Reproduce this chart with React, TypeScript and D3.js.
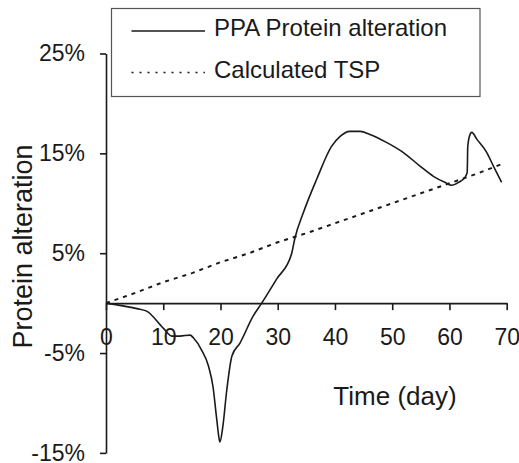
import { useEffect, useRef } from "react";
import * as d3 from "d3";

// PPA protein alteration curve (day, %)
const ppaDays = [0, 5.4, 7.1, 10, 11.5, 12.9, 14.7, 15.3, 16.7, 17.9, 18.7, 19.3, 19.8, 19.9, 20.4, 21.1, 22, 23.4, 25.7, 27.2, 29.8, 32.4, 33, 34.5, 36.8, 39.4, 40.9, 42.6, 44.4, 46.1, 49, 51.9, 54.9, 57.2, 59.2, 60.4, 61.6, 62.7, 63.1, 63.2, 63.6, 63.9, 64.8, 66.5, 67.7, 69.1];
const ppaValues = [0, -0.55, -0.8, -2.5, -3.3, -3.3, -3.2, -3.5, -4.7, -6.3, -8.4, -11.4, -13.7, -13.9, -12.4, -8.7, -5.3, -4.0, -1.3, 0, 2.4, 4.9, 6.5, 9.1, 12.4, 15.7, 16.7, 17.2, 17.2, 16.9, 16.1, 15.1, 13.7, 12.7, 12.1, 11.8, 12.1, 12.6, 13.1, 15.7, 16.9, 17.1, 16.4, 15.1, 13.7, 12.1];

// Calculated TSP
const tspDays = [0, 5, 10, 15, 20, 25, 30, 35, 40, 45, 50, 55, 60, 65, 69];
const tspValues = [0, 1.0, 2.1, 3.0, 4.1, 5.0, 6.1, 7.0, 8.0, 9.0, 10.0, 11.0, 12.0, 13.0, 13.9];

const xTicks = [0, 10, 20, 30, 40, 50, 60, 70];
const yTicks = [-15, -5, 5, 15, 25];
const legendLabels = ["PPA Protein alteration", "Calculated TSP"];

const font = "'Liberation Sans', Arial, sans-serif";
const ink = "#1a1a1a";

const App = () => {
    const svgRef = useRef(null);
    const width = 519;
    const height = 463;

    useEffect(() => {
        const svg = d3.select(svgRef.current);
        svg.selectAll("*").remove();

        const x = d3.scaleLinear().domain([0, 70]).range([106, 506.7]);
        const y = d3.scaleLinear().domain([-15, 25]).range([452.9, 53.5]);

        // x axis sits on the 0% line
        const xAxis = svg.append("g")
            .attr("transform", `translate(0,${y(0)})`)
            .call(d3.axisBottom(x).tickValues(xTicks).tickSize(7).tickSizeOuter(0).tickPadding(19));

        const yAxis = svg.append("g")
            .attr("transform", `translate(${x(0)},0)`)
            .call(d3.axisLeft(y).tickValues(yTicks).tickSize(6).tickSizeOuter(0).tickPadding(15)
                .tickFormat(d => `${d}%`));

        [xAxis, yAxis].forEach(a => {
            a.select(".domain").attr("stroke", ink).attr("stroke-width", 1.6);
            a.selectAll(".tick line").attr("stroke", ink).attr("stroke-width", 1.6);
            a.selectAll(".tick text")
                .attr("fill", ink)
                .style("font-family", font)
                .style("font-size", "23px");
        });

        const line = d3.line().x(d => x(d[0])).y(d => y(d[1])).curve(d3.curveMonotoneX);

        svg.append("path")
            .datum(tspDays.map((d, i) => [d, tspValues[i]]))
            .attr("d", d3.line().x(d => x(d[0])).y(d => y(d[1])))
            .attr("fill", "none")
            .attr("stroke", ink)
            .attr("stroke-width", 2)
            .attr("stroke-dasharray", "4,5");

        svg.append("path")
            .datum(ppaDays.map((d, i) => [d, ppaValues[i]]))
            .attr("d", line)
            .attr("fill", "none")
            .attr("stroke", ink)
            .attr("stroke-width", 1.6)
            .attr("stroke-linejoin", "round");

        // axis titles
        svg.append("text")
            .attr("x", 395)
            .attr("y", 405)
            .attr("text-anchor", "middle")
            .attr("fill", ink)
            .style("font-family", font)
            .style("font-size", "26px")
            .text("Time (day)");

        svg.append("text")
            .attr("transform", "translate(32,246.5) rotate(-90)")
            .attr("text-anchor", "middle")
            .attr("fill", ink)
            .style("font-family", font)
            .style("font-size", "27px")
            .text("Protein alteration");

        // legend
        const legend = svg.append("g");
        legend.append("rect")
            .attr("x", 111.5)
            .attr("y", 8.5)
            .attr("width", 368.5)
            .attr("height", 88)
            .attr("fill", "white")
            .attr("stroke", "#555")
            .attr("stroke-width", 1.2);

        legendLabels.forEach((label, i) => {
            const ly = i === 0 ? 31 : 72.5;
            legend.append("line")
                .attr("x1", 131.5)
                .attr("x2", 205)
                .attr("y1", ly)
                .attr("y2", ly)
                .attr("stroke", ink)
                .attr("stroke-width", i === 0 ? 1.6 : 1.3)
                .attr("stroke-dasharray", i === 0 ? null : "2,6");
            legend.append("text")
                .attr("x", 214)
                .attr("y", ly + 5)
                .attr("fill", ink)
                .style("font-family", font)
                .style("font-size", "24px")
                .text(label);
        });
    }, []);

    return (
        <svg
            ref={svgRef}
            width={width}
            height={height}
            style={{ position: "absolute", left: 0, top: 0, background: "white" }}
        ></svg>
    );
};

export default App;
